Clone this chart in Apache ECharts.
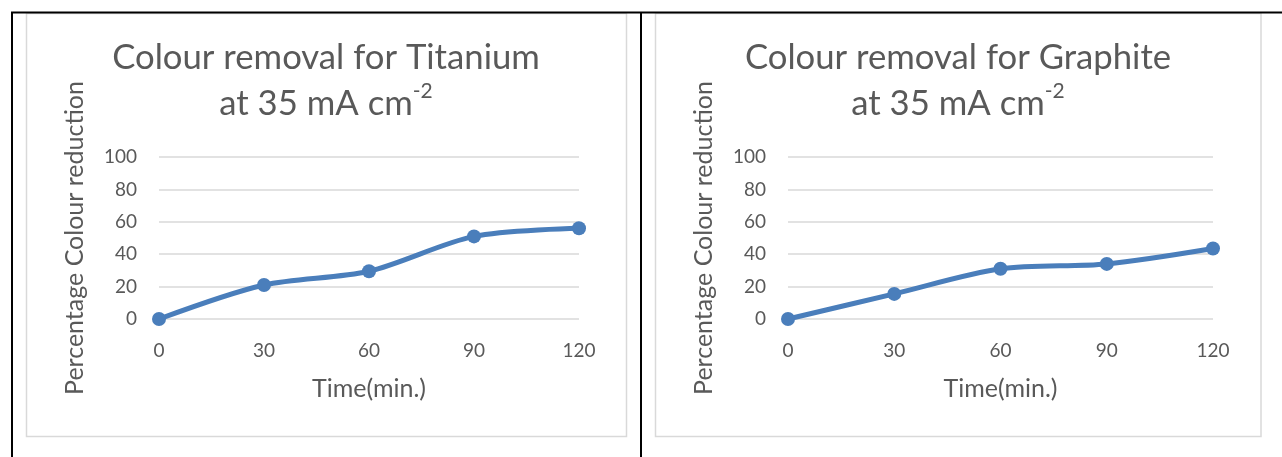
<!DOCTYPE html>
<html><head><meta charset="utf-8">
<script src="https://cdn.jsdelivr.net/npm/echarts@6/dist/echarts.min.js"></script>
<style>html,body{margin:0;padding:0;background:#fff}#c{width:1282px;height:457px}</style>
</head><body><div id="c"></div>
<script>
const times = [0, 30, 60, 90, 120];
const titanium = [0, 21, 29.5, 51, 56];
const graphite = [0, 15.5, 31, 34, 43.5];
const titles = ['Colour removal for Titanium', 'Colour removal for Graphite'];
const subtitle = 'at 35 mA cm';
const subtitleSup = '-2';
const yName = 'Percentage Colour reduction';
const xName = 'Time(min.)';
const yTicks = [0, 20, 40, 60, 80, 100];

const FONT = 'Lato';
const GRAY = '#595959';
const BLUE = '#4a7ebb';

const panels = [
  {left: 159, right: 703, cx: 321, data: titanium, title: titles[0]},
  {left: 788, right: 69, cx: 953, data: graphite, title: titles[1]}
];

const chart = echarts.init(document.getElementById('c'));
const option = {
  animation: false,
  title: [],
  grid: [], xAxis: [], yAxis: [], series: [],
  graphic: [
    {type:'rect', shape:{x:26.5, y:13.5, width:600, height:423}, style:{fill:'none', stroke:'#d9d9d9', lineWidth:1.5}},
    {type:'rect', shape:{x:655.5, y:13.5, width:605.5, height:423}, style:{fill:'none', stroke:'#d9d9d9', lineWidth:1.5}},
    {type:'line', shape:{x1:11, y1:12.5, x2:1282, y2:12.5}, style:{stroke:'#000', lineWidth:2}},
    {type:'line', shape:{x1:12, y1:12, x2:12, y2:457}, style:{stroke:'#000', lineWidth:2}},
    {type:'line', shape:{x1:641, y1:12, x2:641, y2:457}, style:{stroke:'#000', lineWidth:2}}
  ]
};
panels.forEach((p, i) => {
  option.title.push({
    text: p.title + '\n' + subtitle + '{sup|' + subtitleSup + '}',
    left: p.cx, top: 30, textAlign: 'center',
    textStyle: {
      fontFamily: FONT, fontSize: 34.7, fontWeight: 'normal', color: GRAY, lineHeight: 46, align: 'center',
      rich: {sup: {fontFamily: FONT, fontSize: 21, color: GRAY, verticalAlign: 'top', padding: [0,0,16,0]}}
    }
  });
  option.grid.push({left: p.left, right: p.right, top: 157, bottom: 138, containLabel: false});
  option.xAxis.push({
    type: 'value', gridIndex: i, min: times[0], max: times[times.length-1], interval: 30,
    name: xName, nameLocation: 'middle', nameGap: 57,
    nameTextStyle: {fontFamily: FONT, fontSize: 25, color: GRAY},
    axisLine: {show: false}, axisTick: {show: false}, splitLine: {show: false},
    axisLabel: {fontFamily: FONT, fontSize: 19, color: GRAY, margin: 22}
  });
  option.yAxis.push({
    type: 'value', gridIndex: i, min: yTicks[0], max: yTicks[yTicks.length-1], interval: 20,
    name: yName, nameLocation: 'middle', nameGap: 72,
    nameTextStyle: {fontFamily: FONT, fontSize: 25, color: GRAY},
    axisLine: {show: false}, axisTick: {show: false},
    splitLine: {lineStyle: {color: '#d9d9d9', width: 1.5}},
    axisLabel: {fontFamily: FONT, fontSize: 19, color: GRAY, margin: 22}
  });
  option.series.push({
    type: 'line', xAxisIndex: i, yAxisIndex: i,
    data: times.map((t, k) => [t, p.data[k]]),
    smooth: 0.3, symbol: 'circle', symbolSize: 14,
    lineStyle: {color: BLUE, width: 5}, itemStyle: {color: BLUE}
  });
});
chart.setOption(option);
</script></body></html>
